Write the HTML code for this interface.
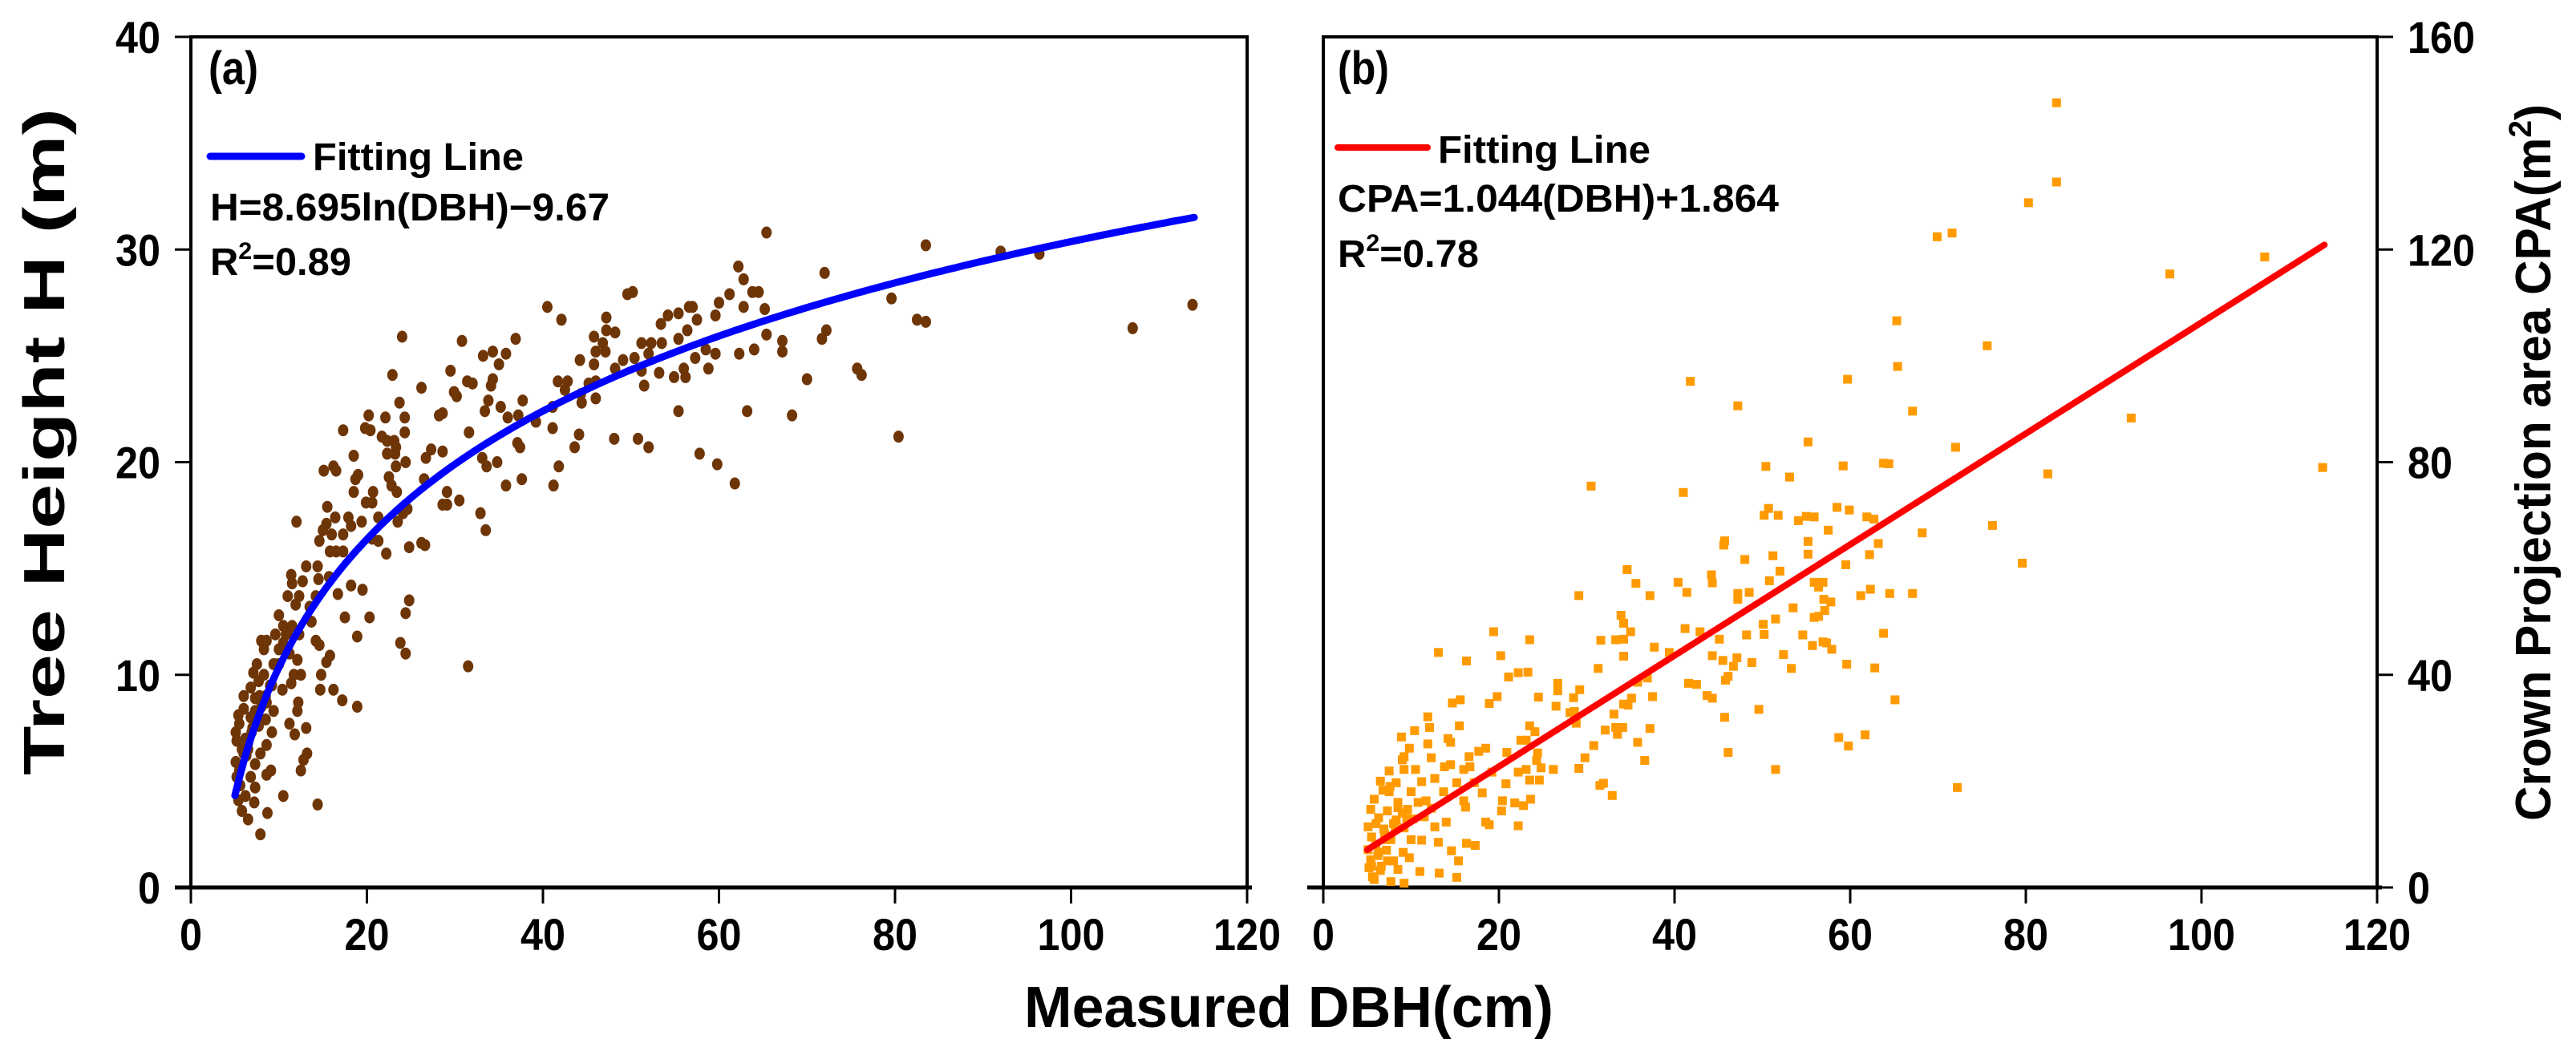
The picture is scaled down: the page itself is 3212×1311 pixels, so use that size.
<!DOCTYPE html>
<html><head><meta charset="utf-8">
<style>
html,body{margin:0;padding:0;background:#fff;}
svg{display:block;}
text{font-family:"Liberation Sans Narrow","Liberation Sans",sans-serif;font-weight:bold;fill:#000;}
</style></head>
<body>
<svg id="chart" width="3212" height="1311" viewBox="0 0 3212 1311" xmlns="http://www.w3.org/2000/svg">
<rect x="0" y="0" width="3212" height="1311" fill="#fff"/>
<g id="panelA"></g>
<g id="panelB"></g>
<text x="1607" y="1281" font-size="72" text-anchor="middle" textLength="660" lengthAdjust="spacingAndGlyphs">Measured DBH(cm)</text>
<text transform="translate(80,551) rotate(-90)" font-size="72" text-anchor="middle" textLength="832" lengthAdjust="spacingAndGlyphs">Tree Height H (m)</text>
<text transform="translate(3180,577) rotate(-90)" font-size="62" text-anchor="middle" textLength="894" lengthAdjust="spacingAndGlyphs">Crown Projection area CPA(m<tspan font-size="40" dy="-24">2</tspan><tspan dy="24">)</tspan></text>
</svg>
<script>
// ---------- data ----------
const xTicks = [0, 20, 40, 60, 80, 100, 120];
const yTicksA = [0, 10, 20, 30, 40];
const yTicksB = [0, 40, 80, 120, 160];
const fitA = {a: 8.695, b: -9.67};
const fitB = {a: 1.044, b: 1.864};
const fitRange = [5, 114];
const dbhA = [65.4,83.5,92,96.4,113.8,107,79.6,82.5,83.5,80.4,72,72.2,71.7,75.7,76.2,70,68.3,67.2,67.2,62.2,62.8,63.8,64.5,65.2,62.8,61.2,60,59.6,65.4,64,62.3,63.2,61.8,59.8,57.8,55.4,56.6,57,55.4,54.2,57.5,53.4,56.4,55.4,58.5,59.6,57.3,58.8,56,54.9,56.2,53.2,51.2,51.5,51.2,52.3,53.5,52,50.4,49.1,48.2,50.2,49.6,47.2,47.2,48.2,45.8,46.8,46,47.1,44.2,45.8,46,45.2,46,44.4,44.3,48.1,50.8,52,44.1,43.6,41.8,41.2,40.5,42.1,41.7,42.8,42.5,41.1,41.1,39.2,37.7,36.9,35.8,34.3,33.2,35,34.3,34.1,32,31.4,30.8,33.8,35.2,33.4,36,37.2,37.4,37.1,33.1,33.6,34.8,37.6,35.8,31.6,30.2,29.9,29.5,28.6,28.2,26.2,27.3,28.6,26.7,26.5,29.1,30.5,28.6,29.1,32.9,33.5,24,22.9,23.7,24.3,22.1,20.2,24.3,19.8,20.4,17.3,21.7,22.3,23.1,23.3,22.3,23.2,24.4,23.3,18.5,16.2,15.1,16.5,19,18.7,22.5,22.8,18.5,20.7,23.4,19.9,20.6,24.6,24.1,23.5,21.3,15.5,16.4,17.9,18.2,19.4,12,15.4,15,16,17.3,20.6,21.3,14.6,24.8,26.2,26.6,22.2,15.8,16.5,17.3,13.1,14.4,11.4,11.5,12.7,14.5,15.7,18.2,19.5,16.7,11,12.3,14.2,24.8,24.4,11.9,13.5,10,17.5,20.3,10.5,11.5,13.7,9.6,10.8,12.3,18.9,8,8.6,14.2,14.6,8.3,10,11.2,12.1,15.8,23.8,24.4,7.5,9.4,15.4,31.5,7.1,8.3,11.7,12.5,14.8,11.4,7.7,9.2,6.8,10.4,14.7,16.2,6,7.3,8.6,12.2,17.2,6,7.3,9.4,12.1,18.9,5.4,6.8,8.5,5.5,7.7,11.2,5.1,6.9,9.2,11.8,13.1,5.2,6.5,8.6,6,7.9,13.2,5.1,7.3,12.8,5.5,9.1,12.5,5.2,6.8,8.6,5.6,7.3,6.2,10.5,5.4,7.2,14.4,5.8,8.7,6.5,7.9,6.2,7,8,9,10,6.5,7.5,8.5,5.8,9.5,10.5,11,6.3,7.8];
const hA = [30.8,30.2,29.9,29.8,27.4,26.3,27.7,26.7,26.6,21.2,28.9,26.2,25.8,24.4,24.1,23.9,22.2,25.7,25.2,29.2,28.6,28,28,27.2,27.3,27.9,27.5,26.9,26,25.3,25.1,22.4,19,19.9,20.4,22.4,27.3,27.3,27,26.9,26.7,26.5,26.2,25.8,25.3,25.1,24.9,24.4,24.4,24,24,24.2,24.3,23.6,25.6,25.6,25.6,25.1,24.9,24.8,24.4,28,27.9,26.8,26.2,26.1,25.9,25.6,25.2,25.2,24.8,24.6,23.8,23.7,23,22.8,23.2,21.1,21.1,20.7,21.3,20.7,19.8,18.9,27.3,26.7,23.8,23.8,23.4,22.6,21.6,21.9,22.9,25.8,25.1,25.2,25,24.6,23.9,23.6,23.7,23.8,25.7,22.9,22.6,22.4,22.1,22.2,20.7,20.9,20.2,19.8,20,19.2,18.9,21.4,23.1,23.3,24.3,22.3,22.2,23.5,20.6,20.5,20.2,19.2,18.6,18.2,18,18,17.6,16.8,25.9,24.1,22.8,22.1,22.1,22.2,21.4,21.6,21.5,21.5,21.2,21,21,20.7,20.4,20.4,20,19.8,20.3,19.8,19.6,19.6,19.4,19.2,19.3,18.9,18.6,18.6,18.6,18.1,18.1,17.8,17.6,17.2,17.4,17.9,17.4,17.4,17,17.2,17.2,17.1,16.8,16.6,16.6,16.4,16.3,16.3,16,16.2,16.1,15.7,15.8,15.8,15.8,15.1,15.1,14.7,14.3,14.4,14.5,14.6,14.2,14,13.8,13.7,13.7,13.7,13.5,12.9,13.3,13.2,12.8,12.7,12.7,12.3,12.3,12.5,11.9,11.9,11.9,11.8,11.6,11.6,11.6,11.4,11.2,11.2,11,10.7,10.9,11.5,11,10.5,10.5,10.6,10.4,10.1,10,10,10,10,9.6,9.7,9.5,9.4,9.3,9.3,9.3,9,8.9,8.7,8.7,8.8,8.4,8.3,8.3,8.3,8.5,8.1,8,7.9,7.7,7.6,7.7,7.3,7.3,7.3,7.2,7.5,6.9,6.8,6.7,6.3,6.3,6.3,5.9,5.8,6,5.5,5.5,5.5,5.2,5.2,5.3,4.8,4.7,4.3,4.3,4.1,4,3.9,3.6,3.5,3.2,2.5,7,7.5,8.5,9.5,10.5,6.5,8,9,6.5,10.5,11.5,12,6.2,9];
const dbhB = [83.5,83.5,80.3,69.9,71.6,107.2,96.4,65.3,75.6,65.4,59.7,41.8,47.2,67.1,92,55.2,72,50.4,59.2,63.8,64.4,113.8,82.5,53.1,30.5,41,50.7,50.2,51.8,54.1,55,55.9,58.5,59.9,61.9,62.7,76.2,57.5,68.2,45.7,45.6,55.2,55.2,63.2,62.2,51.2,48,59.5,79.6,34.6,44.2,44.3,40.4,41.4,35.6,50.8,52,55.9,56.9,56.4,29.1,37.2,47.2,48.5,47.2,61.2,62.3,64.5,67.1,57,57.8,53.5,57.1,55.9,56.4,33.9,34.2,51.5,50.1,41.2,42.9,35,33.3,31.6,34.2,23.5,19.4,48.2,50.2,54.6,63.8,45.1,56.9,57.3,57.9,55.7,37.7,34.2,39.4,13.1,20.2,44.3,47.1,45.5,52.4,48.8,16.3,59.6,62.8,46.7,53.3,31.3,46.1,45.8,21.1,22.2,23.3,26.7,26.7,29.2,36.9,35.8,37.5,41.6,42.5,19.8,24.5,43.7,44.3,65.1,15.6,14.7,18.9,28.5,35.1,34.2,34.7,26.5,28.1,28.6,33.1,49.6,11.9,45.7,23.5,24.1,15.5,12.1,28.8,33.3,34.1,32.1,37.2,10.4,8.9,14.2,22.5,23.1,33.5,35.8,58.7,61.7,59.8,11.9,9.8,18.5,30.8,14.5,46.1,17.7,16.6,9.2,12.3,20.9,24.4,24.3,29.8,36.6,51.5,7.5,9.2,10.5,13.8,14.5,16,16.7,19.2,22.2,23.1,24.8,26.2,29.1,8.3,11.2,12.7,15.2,17.2,20.8,23.5,24.6,31.5,31.9,72.2,6.8,10,13.7,18.1,5.8,8.5,11.7,16,20.4,23.6,21.8,32.9,5.4,7.3,9.6,12.3,16.2,20.3,22.8,6.3,8.3,10.2,11.5,14,18.5,18.9,22.2,5.1,6.9,9.2,12.7,5.5,7.7,11.2,13.1,16.3,17.3,5.1,6.3,9.1,14.6,5.4,7.3,9.8,15.4,5.2,6.5,8.5,13.2,15.2,5.8,7.7,9.2,6,7,8,9,10,6.5,7.5,8.5,5.5,6.2,7.2,8.2,9.5,10.8,6,7,8,11,5.6,6.6,7.6,9];
const cpaB = [147.6,132.7,128.8,122.4,123.1,118.6,115.4,106.6,101.9,98,95.6,95.2,90.6,89.6,88.3,83.8,82.8,79.2,79.3,79.8,79.7,79,77.8,77.2,75.5,74.3,71.3,70,70,69,69.8,69.7,71.5,71,69.7,69.3,68.1,67.2,66.7,65.2,64.4,65.1,62.7,64.7,62.6,62.4,61.7,60.7,61,59.8,58.8,57.3,57.4,55.5,57.2,57.7,59.5,57.4,57.4,56.5,54.9,54.9,55.3,55.5,54.2,54.9,56.1,55.3,55.3,54.2,53.7,52.6,52.1,50.8,51,51.2,49.7,50.5,49.5,48.7,48.1,48.1,46.6,46.5,46.7,46.6,48.1,47.5,47.6,47.5,47.8,46.7,46.2,46,44.8,45.5,45.2,43.5,44.2,44.2,43.6,43.6,43.2,42.7,43.8,42.3,42.6,42,41.3,41.6,41.2,41.2,39.7,39,39.6,40.4,40.5,38.4,37,37.2,39.4,38.6,35.9,38.4,38.2,35.9,35.8,36.1,35.6,35.3,35.3,34.7,34.6,35.7,35.6,34.5,34.3,34.1,32.9,33.1,32.6,33.5,32.1,32,30.4,29.3,30.4,30.1,30.9,30.1,30.1,29.6,29.9,29.5,28.3,28,27.7,27.7,28.8,27.3,28.2,28.7,26.6,27,26.2,26.2,26.7,27.3,25.4,25.6,24.6,24.6,24.4,25.4,25.3,23.9,24.4,23.9,22.2,21.9,22.2,22.2,22.7,23.1,22.2,22.7,21.7,21.7,22.2,22.5,22.2,22.4,19.7,19.9,20.5,19.7,19.7,19.5,20.2,20.2,19.2,19.6,18.8,18.3,18,18,17.8,16.6,16,16.3,16.3,16.3,16.6,15.9,17.3,14.7,14.4,14.7,14.9,15.1,14.4,15.4,13.1,12.7,12.9,13.3,12.3,12.3,11.8,11.6,11.4,11,11.2,11.4,9.5,9,8.9,8.5,8.3,7.9,7.1,6.6,6.6,6.9,5.2,5,5.6,5,3.7,3.2,3.4,2.7,1.9,1.5,1.1,0.8,8,10,12,14,9,20,18,15,4,6,7,11,13,16,12,9,5,3,2,4,19,24,21,17];

// ---------- geometry ----------
const NS = 'http://www.w3.org/2000/svg';
const yTop = 46, yBot = 1107;
const A = {x0: 238, x1: 1555};
const B = {x0: 1650, x1: 2964};
function xScale(p, v){ return p.x0 + (v - xTicks[0]) / (xTicks[xTicks.length-1] - xTicks[0]) * (p.x1 - p.x0); }
function yScale(ticks, v){ return yBot - (v - ticks[0]) / (ticks[ticks.length-1] - ticks[0]) * (yBot - yTop); }
function mk(parent, tag, attrs){
  const e = document.createElementNS(NS, tag);
  for (const k in attrs) e.setAttribute(k, attrs[k]);
  parent.appendChild(e);
  return e;
}
const gA = document.getElementById('panelA');
const gB = document.getElementById('panelB');

function frame(g, p){
  const r = mk(g, 'rect', {x: p.x0, y: yTop, width: p.x1 - p.x0, height: yBot - yTop, fill: 'none', stroke: '#000', 'stroke-width': 4});
  
  
  const bl = mk(g, 'line', {x1: p.x0 - 20, y1: yBot, x2: p.x1 + 6, y2: yBot, stroke: '#000', 'stroke-width': 5});
  
  
  xTicks.forEach(t => {
    const x = xScale(p, t);
    const tk = mk(g, 'line', {x1: x, y1: yBot, x2: x, y2: yBot + 20, stroke: '#000', 'stroke-width': 3});
    
    
    const s = String(t);
    const lb = mk(g, 'text', {x: x, y: 1185, 'font-size': 56, 'text-anchor': 'middle', textLength: s.length * 28, lengthAdjust: 'spacingAndGlyphs'});
    lb.textContent = s;
    
    
  });
}
frame(gA, A);
frame(gB, B);

yTicksA.forEach(t => {
  const y = yScale(yTicksA, t);
  const tk = mk(gA, 'line', {x1: A.x0 - 20, y1: y, x2: A.x0, y2: y, stroke: '#000', 'stroke-width': 3});
  
  
  const s = String(t);
  const lb = mk(gA, 'text', {x: 200, y: y + 20, 'font-size': 56, 'text-anchor': 'end', textLength: s.length * 28, lengthAdjust: 'spacingAndGlyphs'});
  lb.textContent = s;
  
  
});
yTicksB.forEach(t => {
  const y = yScale(yTicksB, t);
  const tk = mk(gB, 'line', {x1: B.x1, y1: y, x2: B.x1 + 20, y2: y, stroke: '#000', 'stroke-width': 3});
  
  
  const s = String(t);
  const lb = mk(gB, 'text', {x: 3002, y: y + 20, 'font-size': 56, 'text-anchor': 'start', textLength: s.length * 28, lengthAdjust: 'spacingAndGlyphs'});
  lb.textContent = s;
  
  
});

dbhA.forEach((d, i) => {
  const c = mk(gA, 'ellipse', {cx: xScale(A, d), cy: yScale(yTicksA, hA[i]), rx: 6.5, ry: 7.5, fill: '#6e3507'});
  
  
});
dbhB.forEach((d, i) => {
  const s = mk(gB, 'rect', {x: xScale(B, d) - 5.5, y: yScale(yTicksB, cpaB[i]) - 5.5, width: 11, height: 11, fill: '#ff9a00'});
  
  
});

let pts = [];
for (let i = 0; i <= 200; i++){
  const v = fitRange[0] + (fitRange[1] - fitRange[0]) * i / 200;
  pts.push(xScale(A, v).toFixed(1) + ',' + yScale(yTicksA, fitA.a * Math.log(v) + fitA.b).toFixed(1));
}
const fa = mk(gA, 'polyline', {points: pts.join(' '), fill: 'none', stroke: '#0000ff', 'stroke-width': 9, 'stroke-linecap': 'round'});


const fb = mk(gB, 'line', {x1: xScale(B, fitRange[0]), y1: yScale(yTicksB, fitB.a * fitRange[0] + fitB.b), x2: xScale(B, fitRange[1]), y2: yScale(yTicksB, fitB.a * fitRange[1] + fitB.b), stroke: '#ff0000', 'stroke-width': 8, 'stroke-linecap': 'round'});



function txt(g, x, y, size, str, name, len){
  const t = mk(g, 'text', {x: x, y: y, 'font-size': size});
  if (len) { t.setAttribute('textLength', len); t.setAttribute('lengthAdjust', 'spacingAndGlyphs'); }
  t.innerHTML = str;
  
  
  return t;
}
txt(gA, 260, 105, 58, '(a)', 'panel-label-a', 62);
const la = mk(gA, 'line', {x1: 262, y1: 195, x2: 376, y2: 195, stroke: '#0000ff', 'stroke-width': 9, 'stroke-linecap': 'round'});


txt(gA, 390, 212, 48, 'Fitting Line', 'legend-label-a', 263);
txt(gA, 262, 275, 48, 'H=8.695ln(DBH)\u22129.67', 'equation-a', 498);
txt(gA, 262, 343, 48, 'R<tspan font-size="30" dy="-20">2</tspan><tspan dy="20">=0.89</tspan>', 'r-squared-a', 176);

txt(gB, 1668, 105, 58, '(b)', 'panel-label-b', 64);
const lbL = mk(gB, 'line', {x1: 1668, y1: 184, x2: 1780, y2: 184, stroke: '#ff0000', 'stroke-width': 8, 'stroke-linecap': 'round'});


txt(gB, 1793, 203, 48, 'Fitting Line', 'legend-label-b', 265);
txt(gB, 1668, 264, 48, 'CPA=1.044(DBH)+1.864', 'equation-b', 550);
txt(gB, 1668, 333, 48, 'R<tspan font-size="30" dy="-20">2</tspan><tspan dy="20">=0.78</tspan>', 'r-squared-b', 176);
</script>
</body></html>
